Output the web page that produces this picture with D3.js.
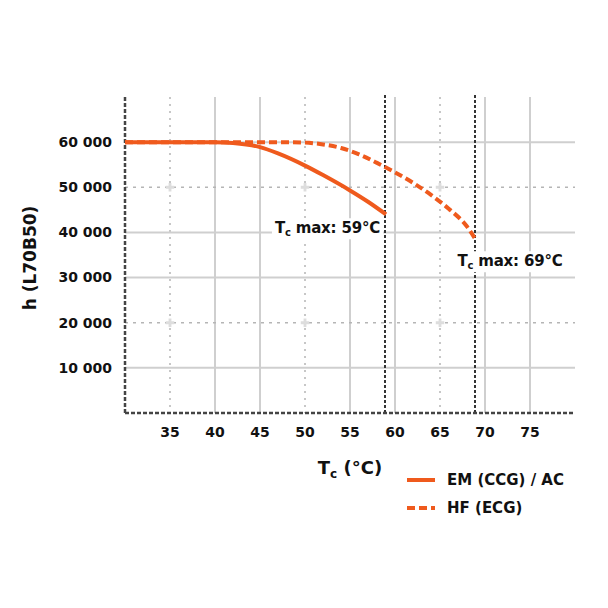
<!DOCTYPE html>
<html>
<head>
<meta charset="utf-8">
<script src="https://cdn.jsdelivr.net/npm/d3@7"></script>
<style>
  body { margin: 0; background: #fff; }
  text { font-family: "DejaVu Sans", "Liberation Sans", sans-serif; font-weight: bold; fill: #111; }
</style>
</head>
<body>
<div id="chart"></div>
<script>
// lifetime curves
var emTemps  = [30, 35, 40, 42, 45, 47, 50, 52, 55, 57, 59];
var emHours  = [60000, 60000, 60000, 59800, 58900, 57500, 54800, 52700, 49300, 46800, 44000];
var hfTemps  = [30, 35, 40, 45, 48, 50, 52, 54, 56, 58, 60, 62, 64, 66, 68, 69];
var hfHours  = [60000, 60000, 60000, 60000, 60000, 59900, 59500, 58700, 57300, 55400, 53300, 51000, 48300, 45200, 41300, 38300];
var xTicks   = [35, 40, 45, 50, 55, 60, 65, 70, 75];
var yTicks   = [10000, 20000, 30000, 40000, 50000, 60000];
var xDotted  = [35, 50, 65];
var yDotted  = [20000, 50000];
var maxTemps = [59, 69];
var legendNames = ["EM (CCG) / AC", "HF (ECG)"];

var w = 608, h = 608;
var padLeft = 125, padRight = 575, padTop = 97, padBottom = 413;
var orange = "#ef5a1d";

var svg = d3.select("#chart").append("svg")
	.attr("width", w)
	.attr("height", h);

var x = d3.scaleLinear().domain([30, 80]).range([padLeft, padRight]);
var y = d3.scaleLinear().domain([0, 70000]).range([padBottom, padTop]);

// grid
svg.selectAll("line.vgrid")
	.data(xTicks).enter().append("line")
	.attr("class", "vgrid")
	.attr("x1", function(d) { return x(d); })
	.attr("x2", function(d) { return x(d); })
	.attr("y1", padTop)
	.attr("y2", padBottom)
	.style("stroke", function(d) { return xDotted.indexOf(d) + 1 ? "#b5b5b5" : "#cfcfcf"; })
	.style("stroke-width", function(d) { return xDotted.indexOf(d) + 1 ? 1.5 : 2; })
	.style("stroke-dasharray", function(d) { return xDotted.indexOf(d) + 1 ? "2,5" : null; });

svg.selectAll("line.hgrid")
	.data(yTicks).enter().append("line")
	.attr("class", "hgrid")
	.attr("x1", padLeft)
	.attr("x2", padRight)
	.attr("y1", function(d) { return y(d); })
	.attr("y2", function(d) { return y(d); })
	.style("stroke", function(d) { return yDotted.indexOf(d) + 1 ? "#b5b5b5" : "#cfcfcf"; })
	.style("stroke-width", function(d) { return yDotted.indexOf(d) + 1 ? 1.5 : 2; })
	.style("stroke-dasharray", function(d) { return yDotted.indexOf(d) + 1 ? "3,5" : null; });

// little crosses where the dotted lines meet
var crosses = [];
xDotted.forEach(function(a) { yDotted.forEach(function(b) { crosses.push([a, b]); }); });
svg.selectAll("path.cross")
	.data(crosses).enter().append("path")
	.attr("class", "cross")
	.attr("d", d3.symbol().type(d3.symbolCross).size(40))
	.attr("transform", function(d) { return "translate(" + x(d[0]) + "," + y(d[1]) + ")"; })
	.style("fill", "#ddd");

// max temperature markers
svg.selectAll("line.maxline")
	.data(maxTemps).enter().append("line")
	.attr("class", "maxline")
	.attr("x1", function(d) { return x(d) - 1; })
	.attr("x2", function(d) { return x(d) - 1; })
	.attr("y1", padTop - 2)
	.attr("y2", padBottom)
	.style("stroke", "#333")
	.style("stroke-width", 2)
	.style("stroke-dasharray", "3,2");

// axes (lines only, labels drawn by hand below)
svg.append("line")
	.attr("x1", padLeft).attr("x2", padLeft).attr("y1", padTop).attr("y2", padBottom)
	.style("stroke", "#444").style("stroke-width", 2.5).style("stroke-dasharray", "4,2");
svg.append("line")
	.attr("x1", padLeft).attr("x2", padRight).attr("y1", padBottom).attr("y2", padBottom)
	.style("stroke", "#444").style("stroke-width", 2.5).style("stroke-dasharray", "4,2");

var fmt = function(d) { return d3.format(",")(d).replace(",", " "); };
svg.selectAll("text.ytick")
	.data(yTicks).enter().append("text")
	.attr("class", "ytick")
	.attr("x", padLeft - 13)
	.attr("y", function(d) { return y(d); })
	.attr("dy", "0.35em")
	.attr("text-anchor", "end")
	.style("font-size", "14px")
	.text(fmt);

svg.selectAll("text.xtick")
	.data(xTicks).enter().append("text")
	.attr("class", "xtick")
	.attr("x", function(d) { return x(d); })
	.attr("y", padBottom + 19)
	.attr("dy", "0.35em")
	.attr("text-anchor", "middle")
	.style("font-size", "14px")
	.text(function(d) { return d; });

// axis titles
var xt = svg.append("text")
	.attr("x", (padLeft + padRight) / 2)
	.attr("y", 474)
	.attr("text-anchor", "middle")
	.style("font-size", "18px");
xt.append("tspan").text("T");
xt.append("tspan").attr("dy", 4).style("font-size", "12px").text("c");
xt.append("tspan").attr("dy", -4).text(" (°C)");

svg.append("text")
	.attr("transform", "translate(36," + ((padTop + padBottom) / 2 + 3) + ") rotate(-90)")
	.attr("text-anchor", "middle")
	.style("font-size", "17px")
	.text("h (L70B50)");

// curves
var line = d3.line()
	.x(function(d) { return x(d[0]); })
	.y(function(d) { return y(d[1]); })
	.curve(d3.curveMonotoneX);

svg.append("path")
	.datum(d3.zip(hfTemps, hfHours))
	.attr("d", line)
	.attr("fill", "none")
	.style("stroke", orange)
	.style("stroke-width", 4)
	.style("stroke-dasharray", "8,4");

svg.append("path")
	.datum(d3.zip(emTemps, emHours))
	.attr("d", line)
	.attr("fill", "none")
	.style("stroke", orange)
	.style("stroke-width", 4);

// max temperature labels with white boxes
var labelPos = [[228, "end", -6], [261, "middle", 34]];
labelPos.forEach(function(p, i) {
	var g = svg.append("g");
	var t = g.append("text")
		.attr("x", x(maxTemps[i]) + p[2])
		.attr("y", p[0])
		.attr("dy", "0.35em")
		.attr("text-anchor", p[1])
		.style("font-size", "15px")
		.style("letter-spacing", "-0.2px");
	t.append("tspan").text("T");
	t.append("tspan").attr("dy", 3).style("font-size", "10px").text("c");
	t.append("tspan").attr("dy", -3).text(" max: " + maxTemps[i] + "°C");
	var bb = t.node().getBBox();
	g.insert("rect", "text")
		.attr("x", bb.x - 3).attr("y", bb.y - 1)
		.attr("width", bb.width + 6).attr("height", bb.height + 2)
		.style("fill", "#fff");
});

// legend
var legend = svg.selectAll("g.legend")
	.data(legendNames).enter().append("g")
	.attr("class", "legend")
	.attr("transform", function(d, i) { return "translate(407," + (480 + i * 28) + ")"; });
legend.append("line")
	.attr("x1", 0).attr("x2", 28)
	.style("stroke", orange)
	.style("stroke-width", 4)
	.style("stroke-dasharray", function(d, i) { return i ? "8,4" : null; });
legend.append("text")
	.attr("x", 40)
	.attr("dy", "0.35em")
	.style("font-size", "15px")
	.text(function(d) { return d; });
</script>
</body>
</html>
